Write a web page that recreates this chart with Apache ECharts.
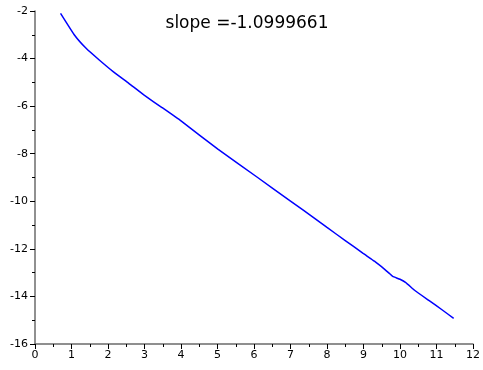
<!DOCTYPE html>
<html>
<head>
<meta charset="utf-8">
<script src="https://cdn.jsdelivr.net/npm/echarts@6/dist/echarts.min.js"></script>
<style>
  html, body { margin: 0; padding: 0; background: #fff; }
  #chart { width: 483px; height: 370px; }
</style>
</head>
<body>
<div id="chart"></div>
<script>
// values
const titleText = "slope =-1.0999661";
const xValues = [0.70, 1.08, 1.40, 1.76, 2.15, 2.57, 3.00, 3.48, 4.00, 5.01, 6.10, 7.00, 7.68, 8.00, 8.50, 8.99, 9.30, 9.58, 9.70, 9.80, 10.00, 10.16, 10.39, 10.80, 11.15, 11.47];
const yValues = [-2.10, -3.01, -3.57, -4.06, -4.56, -5.04, -5.55, -6.06, -6.62, -7.81, -9.00, -9.99, -10.74, -11.10, -11.65, -12.19, -12.52, -12.86, -13.02, -13.16, -13.28, -13.42, -13.73, -14.18, -14.56, -14.92];

const chart = echarts.init(document.getElementById("chart"));

const axisCommon = {
  axisLine: { show: true, onZero: false, lineStyle: { color: "#6b6b6b", width: 1.5 } },
  axisTick: { show: true, inside: false, length: 5, lineStyle: { color: "#000" } },
  minorTick: { show: true, splitNumber: 2, length: 3, lineStyle: { color: "#000" } },
  axisLabel: { color: "#000", fontSize: 11, fontFamily: "DejaVu Sans" },
  splitLine: { show: false },
};

const option = {
  animation: false,
  title: {
    text: titleText,
    left: 242,
    top: 10,
    textAlign: "center",
    textStyle: { fontFamily: "DejaVu Sans", fontSize: 17, fontWeight: "normal", color: "#000" },
  },
  grid: { left: 35, right: 5, top: 11, bottom: 26 },
  xAxis: {
    type: "value",
    min: 0,
    max: 12,
    interval: 1,
    ...axisCommon,
    axisLabel: { ...axisCommon.axisLabel, margin: 6 },
  },
  yAxis: {
    type: "value",
    min: -16,
    max: -2,
    interval: 2,
    ...axisCommon,
    axisLabel: { ...axisCommon.axisLabel, margin: 7 },
  },
  series: [
    {
      type: "line",
      data: xValues.map((x, i) => [x, yValues[i]]),
      showSymbol: false,
      smooth: 0.1,
      lineStyle: { color: "#0000ff", width: 1.5 },
    },
  ],
};

chart.setOption(option);
</script>
</body>
</html>
